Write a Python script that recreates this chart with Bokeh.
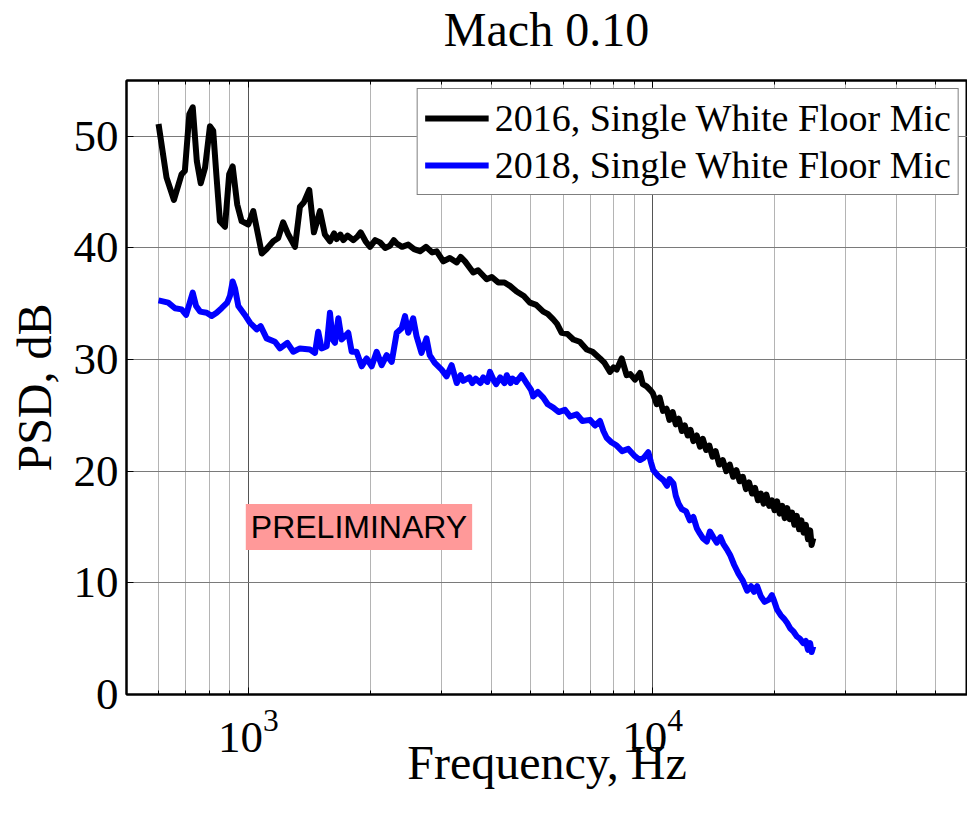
from bokeh.plotting import figure
from bokeh.layouts import column
from bokeh.models import (FixedTicker, LogAxis, Label, Range1d, ColumnDataSource, Div)
from bokeh.embed import file_html
from bokeh.resources import INLINE

# ---- data: (frequency in Hz, PSD in dB) ----
psd_2016 = [
    (600, 51.1), (628, 46.3), (655, 44.3), (684, 46.6), (697, 46.9), (715, 52.0), (729, 52.6), (746, 47.8),
    (763, 45.8), (782, 47.2), (804, 50.9), (819, 50.5), (835, 46.3), (851, 42.4), (876, 41.9), (897, 46.6),
    (915, 47.3), (939, 43.9), (963, 42.4), (1000, 42.1), (1029, 43.3), (1049, 41.8), (1080, 39.5), (1110, 39.9),
    (1153, 40.6), (1186, 40.9), (1220, 42.3), (1256, 41.2), (1305, 40.1), (1342, 43.7), (1373, 44.1),
    (1415, 45.2), (1453, 41.4), (1504, 43.3), (1547, 41.2), (1592, 40.6), (1630, 41.3), (1654, 40.8),
    (1690, 41.2), (1718, 40.7), (1760, 41.1), (1818, 40.7), (1860, 41.0), (1896, 41.4), (1950, 40.6),
    (2000, 40.1), (2060, 40.7), (2117, 40.5), (2180, 40.0), (2240, 40.2), (2290, 40.7), (2328, 40.4),
    (2400, 40.1), (2486, 40.3), (2570, 39.9), (2658, 39.7), (2750, 40.1), (2850, 39.6), (2923, 39.7),
    (3035, 38.8), (3150, 39.1), (3276, 38.7), (3350, 39.2), (3434, 38.8), (3599, 37.8), (3700, 38.0),
    (3885, 37.2), (4000, 37.4), (4150, 36.9), (4300, 36.9), (4436, 36.6), (4607, 36.1), (4800, 35.7),
    (4971, 35.1), (5150, 34.9), (5362, 34.3), (5500, 34.1), (5675, 33.6), (5800, 33.2), (5954, 32.4),
    (6150, 32.3), (6362, 31.8), (6600, 31.6), (6866, 30.9), (7100, 30.7), (7405, 30.1), (7600, 29.7),
    (7839, 28.9), (8000, 29.3), (8144, 29.1), (8378, 30.1), (8618, 28.6), (8800, 28.7), (9036, 28.2),
    (9298, 28.8), (9450, 27.8), (9660, 27.6), (9900, 27.2), (10000, 27.0), (10230, 26.0), (10400, 26.6),
    (10600, 25.4), (10820, 25.6), (11000, 24.6), (11200, 25.3), (11400, 24.2), (11600, 24.7), (11800, 23.6),
    (12000, 24.1), (12200, 23.2), (12400, 23.7), (12600, 22.7), (12850, 23.2), (13085, 22.2), (13300, 22.9),
    (13550, 21.9), (13800, 22.3), (14050, 21.3), (14300, 21.8), (14600, 20.6), (14900, 21.0), (15200, 20.0),
    (15500, 20.6), (15800, 19.5), (16100, 20.1), (16400, 19.1), (16700, 19.5), (17000, 18.4), (17300, 19.0),
    (17600, 18.0), (17900, 18.5), (18200, 17.4), (18500, 18.0), (18800, 17.1), (19100, 17.9), (19400, 16.9),
    (19700, 17.4), (20000, 16.5), (20300, 17.3), (20600, 16.2), (20900, 16.9), (21200, 15.8), (21500, 16.7),
    (21800, 15.7), (22100, 16.3), (22400, 15.2), (22700, 16.0), (23000, 14.8), (23300, 15.6), (23600, 14.5),
    (23900, 15.2), (24200, 13.9), (24500, 14.7), (24700, 13.4), (24940, 14.0),
]

psd_2018 = [
    (600, 35.3), (634, 35.1), (659, 34.6), (684, 34.5), (702, 34.0), (718, 35.2), (729, 36.0), (743, 34.8),
    (760, 34.3), (789, 34.2), (812, 33.9), (835, 34.2), (859, 34.6), (887, 35.1), (901, 35.7), (915, 37.0),
    (927, 36.4), (945, 34.8), (981, 34.0), (1010, 33.3), (1049, 32.7), (1073, 33.0), (1110, 31.9),
    (1164, 31.6), (1198, 31.0), (1249, 31.5), (1292, 30.7), (1342, 31.0), (1421, 30.9), (1462, 30.6),
    (1489, 32.5), (1518, 31.0), (1563, 31.2), (1592, 34.2), (1617, 31.8), (1638, 31.5), (1670, 33.7),
    (1702, 31.8), (1767, 32.4), (1802, 30.7), (1852, 30.7), (1907, 29.4), (1962, 30.1), (2019, 29.4),
    (2077, 30.7), (2137, 29.5), (2199, 30.4), (2263, 29.8), (2328, 32.4), (2395, 32.8), (2441, 33.9),
    (2486, 32.4), (2557, 33.7), (2606, 32.1), (2681, 30.6), (2758, 31.9), (2809, 30.4), (2891, 29.7),
    (3006, 29.1), (3093, 28.5), (3182, 29.5), (3276, 27.9), (3350, 28.6), (3400, 28.1), (3521, 28.4),
    (3580, 27.9), (3650, 28.3), (3750, 27.9), (3811, 28.4), (3900, 28.0), (3959, 28.9), (4050, 28.1),
    (4100, 27.8), (4194, 28.4), (4300, 27.9), (4357, 28.6), (4450, 27.9), (4500, 28.3), (4600, 28.0),
    (4735, 28.6), (4875, 27.9), (5000, 27.3), (5064, 26.7), (5200, 27.1), (5362, 26.6), (5500, 26.0),
    (5675, 25.7), (5850, 25.3), (6066, 25.5), (6250, 24.9), (6486, 25.1), (6700, 24.5), (6994, 24.6),
    (7200, 24.1), (7405, 24.5), (7550, 23.6), (7691, 23.0), (7900, 22.6), (8144, 22.3), (8400, 21.8),
    (8699, 22.0), (9000, 21.4), (9298, 21.0), (9500, 21.2), (9751, 21.7), (9900, 20.8), (10030, 20.1),
    (10300, 19.6), (10620, 19.2), (10850, 18.7), (11000, 19.3), (11250, 18.9), (11400, 17.8), (11580, 17.1),
    (11800, 16.6), (12090, 16.4), (12350, 15.6), (12600, 15.9), (12850, 14.9), (13085, 14.4), (13300, 14.0),
    (13600, 13.7), (13850, 14.6), (14110, 14.1), (14400, 13.6), (14700, 14.1), (14940, 13.5), (15250, 13.0),
    (15530, 12.5), (15900, 11.6), (16300, 10.8), (16700, 10.2), (17110, 9.3), (17500, 9.7), (17800, 9.2),
    (18120, 9.7), (18500, 8.8), (18900, 8.3), (19380, 8.5), (19700, 8.9), (19950, 8.4), (20300, 7.6),
    (20720, 7.1), (21100, 6.8), (21500, 6.4), (21900, 5.9), (22320, 5.6), (22700, 5.2), (23100, 5.0),
    (23560, 4.6), (23900, 4.8), (24200, 4.0), (24500, 4.6), (24700, 3.8), (24940, 4.3),
]

series_labels = ["2016, Single White Floor Mic", "2018, Single White Floor Mic"]
x_major_ticks = [1000, 10000]
x_minor_ticks = [500, 600, 700, 800, 900, 2000, 3000, 4000, 5000, 6000, 7000, 8000, 9000,
                 20000, 30000, 40000, 50000]
y_ticks = [0, 10, 20, 30, 40, 50]
title_text = "Mach 0.10"
x_label = "Frequency, Hz"
y_label = "PSD, dB"
stamp_text = "PRELIMINARY"

SERIF = "Liberation Serif"

title_div = Div(text=title_text, width=841, height=60, margin=(0, 0, 0, 126),
                styles={"font-family": "'Liberation Serif', serif", "font-size": "48px",
                        "line-height": "60px", "text-align": "center", "color": "black",
                        "white-space": "nowrap"})

p = figure(width=967, height=752, x_axis_type="log",
           x_range=Range1d(500, 60000), y_range=Range1d(0, 55),
           output_backend="svg", toolbar_location=None,
           min_border_left=126, min_border_top=20, min_border_bottom=118, min_border_right=0,
           margin=(0, 0, 0, 0))
p.title = None
p.background_fill_color = "white"
p.border_fill_color = "white"
p.outline_line_color = "black"
p.outline_line_width = 2

xt = FixedTicker(ticks=x_major_ticks, minor_ticks=x_minor_ticks)
yt = FixedTicker(ticks=y_ticks)

xa = p.xaxis[0]
xa.ticker = xt
ya = p.yaxis[0]
ya.ticker = yt

for ax in (xa, ya):
    ax.major_label_text_font = SERIF
    ax.major_label_text_font_size = "45px"
    ax.major_label_text_color = "black"
    ax.axis_label_text_font = SERIF
    ax.axis_label_text_font_size = "48px"
    ax.axis_label_text_font_style = "normal"
    ax.axis_label_text_color = "black"
    ax.axis_line_color = "black"
    ax.axis_line_width = 2
    ax.major_tick_in = 7
    ax.major_tick_out = 0
    ax.minor_tick_in = 4
    ax.minor_tick_out = 0
    ax.major_tick_line_color = "black"
    ax.minor_tick_line_color = "black"

xa.axis_label = x_label
xa.major_label_standoff = 16
xa.axis_label_standoff = -19
ya.axis_label = y_label
ya.major_label_standoff = 8
ya.axis_label_standoff = 10
ya.minor_tick_line_color = None

top = LogAxis(ticker=xt, major_label_text_font_size="1px", major_label_text_color=None,
              major_tick_in=7, major_tick_out=0,
              minor_tick_in=4, minor_tick_out=0, axis_line_width=2, major_label_standoff=0)
p.add_layout(top, "above")

p.xgrid.ticker = xt
p.xgrid.grid_line_color = "#555555"
p.xgrid.grid_line_width = 1
p.xgrid.minor_grid_line_color = "#b4b4b4"
p.xgrid.minor_grid_line_width = 1
p.ygrid.ticker = yt
p.ygrid.grid_line_color = "#7a7a7a"
p.ygrid.grid_line_width = 1

f16, d16 = zip(*psd_2016)
f18, d18 = zip(*psd_2018)
src16 = ColumnDataSource(dict(f=list(f16), db=list(d16)))
src18 = ColumnDataSource(dict(f=list(f18), db=list(d18)))
p.line("f", "db", source=src16, line_color="black", line_width=6, line_join="round",
       legend_label=series_labels[0])
p.line("f", "db", source=src18, line_color="#0000ff", line_width=6, line_join="round",
       legend_label=series_labels[1])

lg = p.legend[0]
lg.location = "top_right"
lg.margin = 8
lg.label_text_font = SERIF
lg.label_text_font_size = "38px"
lg.label_text_color = "black"
lg.glyph_width = 64
lg.glyph_height = 22
lg.label_standoff = 6
lg.padding = 7
lg.spacing = 3
lg.border_line_color = "black"
lg.border_line_width = 1.5
lg.background_fill_alpha = 1

stamp = Label(x=1878, y=15.0, text=stamp_text, text_align="center", text_baseline="middle",
              text_font="Liberation Sans", text_font_size="32px", text_color="black",
              background_fill_color="#ff9999", padding=5)
p.add_layout(stamp)

layout = column(title_div, p, spacing=0)
open("out.html", "w").write(file_html(layout, INLINE))
